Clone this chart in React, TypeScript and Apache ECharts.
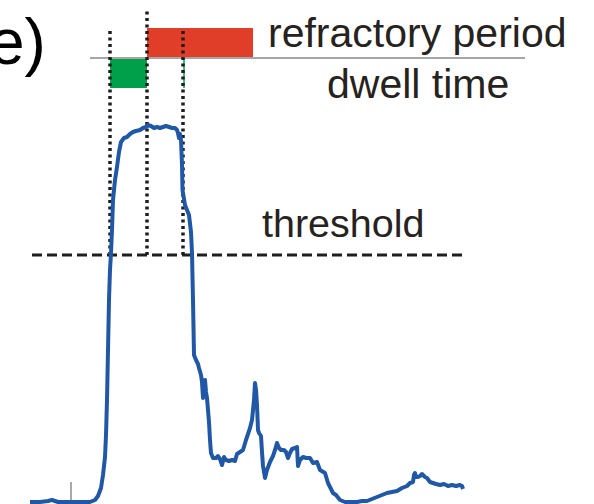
import React, { useEffect, useRef } from "react";
import * as echarts from "echarts";

// Recorded signal (time in arbitrary units, amplitude above baseline)
const time = [
  30, 40, 48, 52, 58, 67, 80, 90, 95, 98, 101, 103, 105, 106, 107, 108, 109, 110, 111, 112,
  113, 115, 117, 119, 121, 124, 127, 130, 133, 136, 140, 143, 146, 148, 151, 154, 157, 160, 163, 166,
  169, 172, 175, 177, 178, 179, 180, 181, 182, 182.5, 185, 187, 189, 191, 192, 193, 194, 196, 198, 199,
  201, 202, 203, 204, 205, 206, 207, 208, 209, 210, 211, 213, 216, 218, 220, 222, 224, 226, 229, 232,
  235, 237, 240, 243, 246, 248, 250, 252, 254, 255, 256, 257, 258, 259, 261, 262, 263, 265, 267, 270,
  273, 275, 277, 279, 281, 284, 286, 288, 290, 292, 295, 297, 298, 300, 303, 306, 310, 313, 317, 320,
  325, 328, 333, 336, 340, 345, 350, 357, 362, 367, 372, 377, 382, 387, 392, 397, 402, 407, 410, 413,
  414, 415, 416, 418, 420, 422, 425, 427, 430, 433, 436, 440, 444, 448, 452, 456, 460, 462, 463,
];
const amplitude = [
  0, 0, 1, 2, 0, 0, 0, 0, 2, 6, 14, 27, 45, 67, 102, 152, 202, 232, 249, 272,
  302, 322, 335, 350, 360, 364, 365, 368, 370, 371, 372, 374, 375, 377, 376, 374, 375, 374, 375, 376,
  375, 374, 374, 372, 369, 364, 368, 362, 337, 312, 297, 292, 287, 270, 249, 202, 147, 142, 138, 134,
  127, 120, 104, 117, 122, 110, 104, 92, 80, 62, 49, 44, 44, 46, 43, 37, 45, 42, 41, 42,
  41, 48, 50, 52, 62, 68, 74, 82, 102, 119, 112, 97, 72, 69, 66, 50, 36, 24, 32, 40,
  46, 52, 59, 54, 52, 52, 50, 44, 49, 53, 54, 55, 36, 42, 45, 44, 44, 39, 40, 32,
  29, 19, 9, 7, 2, 0, 0, 0, 1, 1, 3, 5, 7, 9, 10, 11, 14, 16, 19, 20,
  27, 29, 25, 25, 26, 28, 25, 24, 20, 19, 18, 17, 18, 16, 17, 16, 17, 16, 13,
];

// Detection parameters
const THRESHOLD = 247;
const thresholdSpan = [32, 463];
const eventTimes = [110, 147, 183]; // onset, dwell end, offset
const eventTops = [474, 492, 474];
const stimulusTime = 71;
const stimulusHeight = 20;

// Timing bars
const dwellTime = [110, 147];
const refractoryPeriod = [147, 253];
const barDivider = 444;
const barHeight = 30;
const dividerSpan = [90, 525];

// Labels
const labels = ["refractory period", "dwell time", "threshold", "e)"];

const TEXT = "#262220";
const FONT = "Liberation Sans, Arial, Helvetica, sans-serif";

export default function App() {
  const ref = useRef<HTMLDivElement>(null);
  useEffect(() => {
    if (!ref.current) return;
    const chart = echarts.init(ref.current, undefined, { renderer: "svg" });
    const signal = time.map((t, i) => [t, amplitude[i]]);

    const seg = (name: string, data: number[][], color: string, width: number, dash: any) => ({
      name,
      type: "line",
      data,
      symbol: "none",
      silent: true,
      z: 3,
      lineStyle: { color, width, type: dash, cap: "butt" },
    });

    const bars = [
      { value: [dwellTime[0], dwellTime[1], barDivider - barHeight, barDivider], itemStyle: { color: "#00a04b" } },
      { value: [refractoryPeriod[0], refractoryPeriod[1], barDivider, barDivider + barHeight], itemStyle: { color: "#e13e29" } },
    ];

    chart.setOption({
      animation: false,
      backgroundColor: "#ffffff",
      grid: { left: 0, right: 0, top: 0, bottom: 0 },
      xAxis: { type: "value", min: 0, max: 594, show: false },
      yAxis: { type: "value", min: -2, max: 502, show: false },
      series: [
        {
          type: "custom",
          data: bars,
          z: 1,
          silent: true,
          renderItem: (params: any, api: any) => {
            const p0 = api.coord([api.value(0), api.value(3)]);
            const p1 = api.coord([api.value(1), api.value(2)]);
            return {
              type: "rect",
              shape: { x: p0[0], y: p0[1], width: p1[0] - p0[0], height: p1[1] - p0[1] },
              style: { fill: api.visual("color") },
            };
          },
        },
        seg("divider", [[dividerSpan[0], barDivider], [dividerSpan[1], barDivider]], "#a6a6a6", 2, "solid"),
        seg("offsetGreen", [[eventTimes[2] + 1, barDivider - barHeight], [eventTimes[2] + 1, barDivider]], "#00a04b", 1.5, "solid"),
        ...eventTimes.map((t, i) =>
          seg("event" + i, [[t, THRESHOLD], [t, eventTops[i]]], "#1e1e1e", 3.5, [3, 3.5])
        ),
        seg("threshold", [[thresholdSpan[0], THRESHOLD], [thresholdSpan[1], THRESHOLD]], "#1e1e1e", 3, [10, 5]),
        seg("stimulus", [[stimulusTime, 0], [stimulusTime, stimulusHeight]], "#8c8c8c", 1.5, "solid"),
        {
          name: "signal",
          type: "line",
          data: signal,
          symbol: "none",
          silent: true,
          z: 5,
          lineStyle: { color: "#2158a6", width: 4, join: "round" },
        },
      ],
      graphic: [
        { type: "text", x: 268, y: 33, style: { text: labels[0], font: `41px ${FONT}`, fill: TEXT, verticalAlign: "middle" } },
        { type: "text", x: 327, y: 84, style: { text: labels[1], font: `41px ${FONT}`, fill: TEXT, verticalAlign: "middle" } },
        { type: "text", x: 262, y: 223, style: { text: labels[2], font: `39.5px ${FONT}`, fill: TEXT, verticalAlign: "middle" } },
        { type: "text", x: -11, y: 42, style: { text: labels[3], font: `64px ${FONT}`, fill: "#000000", verticalAlign: "middle" } },
      ],
    });
    return () => chart.dispose();
  }, []);
  return (
    <div
      ref={ref}
      style={{ position: "fixed", left: 0, top: 0, width: 594, height: 504, background: "#fff" }}
    />
  );
}
